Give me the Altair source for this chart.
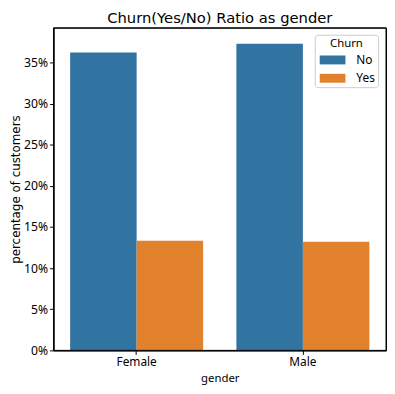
import altair as alt
import pandas as pd

genders = ["Female", "Female", "Male", "Male"]
churn = ["No", "Yes", "No", "Yes"]
pct = [0.3619, 0.1333, 0.3727, 0.1320]
y_ticks = [0, 0.05, 0.10, 0.15, 0.20, 0.25, 0.30, 0.35]

df = pd.DataFrame({"gender": genders, "Churn": churn, "pct": pct})
frame_df = pd.DataFrame({"f": [0]})

FONT = "Noto Sans"
TFONT = "DejaVu Sans"

bars = alt.Chart(df).mark_bar().encode(
    x=alt.X("gender:N",
            scale=alt.Scale(paddingInner=0.2, paddingOuter=0.1),
            axis=alt.Axis(title="gender", labelAngle=0, labelFontSize=12,
                          titleFontSize=11.5, titleFontWeight="normal",
                          labelPadding=2, titlePadding=5)),
    xOffset=alt.XOffset("Churn:N", scale=alt.Scale(paddingInner=0, paddingOuter=0)),
    y=alt.Y("pct:Q",
            scale=alt.Scale(domain=[0, 0.392], nice=False),
            axis=alt.Axis(format=".0%", values=y_ticks, title="percentage of customers",
                          labelFontSize=12.3, titleFontSize=12, titleFontWeight="normal",
                          titleFont=TFONT,
                          labelPadding=2, titleX=-34.2, titleBaseline="alphabetic")),
    color=alt.Color("Churn:N",
                    scale=alt.Scale(domain=["No", "Yes"], range=["#3274a1", "#e1812c"]),
                    legend=alt.Legend(title="Churn", orient="none", legendX=264, legendY=7,
                                      symbolType="M-2.6,-0.9H2.6V0.9H-2.6Z", symbolSize=100,
                                      symbolOffset=9,
                                      symbolStrokeWidth=0, symbolOpacity=1,
                                      labelFontSize=12, titleFontSize=11.5,
                                      titleFontWeight="normal", titleAnchor="middle",
                                      labelOffset=18, rowPadding=6.5, titlePadding=5,
                                      padding=3, strokeColor="#cccccc", cornerRadius=3,
                                      fillColor="white")),
)

frame = alt.Chart(frame_df).mark_rect(fillOpacity=0, stroke="black", strokeWidth=1).encode(
    x=alt.value(0), x2=alt.value("width"), y=alt.value(0), y2=alt.value("height")
)

chart = alt.layer(bars, frame).properties(
    width=336, height=326,
    title=alt.TitleParams("Churn(Yes/No) Ratio as gender", fontSize=14.9, font=TFONT,
                          fontWeight="normal", anchor="middle", offset=1),
    autosize=alt.AutoSizeParams(type="none"),
    padding={"left": 46, "top": 18, "right": 1, "bottom": 34},
).configure(font=FONT).configure_view(
    stroke="black", strokeWidth=1
).configure_axis(
    grid=False, domainColor="black", tickColor="black", labelColor="black",
    titleColor="black", tickSize=4, labelFont=FONT, titleFont=FONT
).configure_legend(
    labelColor="black", titleColor="black"
).configure_title(color="black")

chart.save("out.html", embed_options={"renderer": "svg", "actions": False})
